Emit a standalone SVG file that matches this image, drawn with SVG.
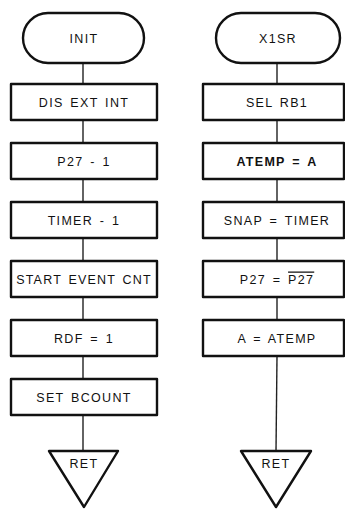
<svg xmlns="http://www.w3.org/2000/svg" width="345" height="509" viewBox="0 0 345 509">
<style>
.shape{fill:#fff;stroke:#111;stroke-width:2.4;stroke-linejoin:round}
.conn{stroke:#222;stroke-width:1.4;fill:none}
text{font-family:"Liberation Sans",Arial,sans-serif;font-size:12.5px;fill:#111;text-anchor:middle;letter-spacing:1.3px;word-spacing:2px}
</style>
<rect width="345" height="509" fill="#fff"/>
<g id="connectors">
<line class="conn" x1="83" y1="63" x2="83" y2="84"/>
<line class="conn" x1="83" y1="120" x2="83" y2="143"/>
<line class="conn" x1="83" y1="179" x2="83" y2="202"/>
<line class="conn" x1="83" y1="238" x2="83" y2="261"/>
<line class="conn" x1="83" y1="297" x2="83" y2="320"/>
<line class="conn" x1="83" y1="356" x2="83" y2="379"/>
<line class="conn" x1="83" y1="415" x2="83" y2="451"/>
<line class="conn" x1="277" y1="63" x2="277" y2="84"/>
<line class="conn" x1="277" y1="120" x2="277" y2="143"/>
<line class="conn" x1="277" y1="179" x2="277" y2="202"/>
<line class="conn" x1="277" y1="238" x2="277" y2="261"/>
<line class="conn" x1="277" y1="297" x2="277" y2="320"/>
<line class="conn" x1="277" y1="356" x2="276" y2="451"/>
</g>
<g id="init"><rect class="shape" x="23" y="13" width="121" height="50" rx="25" ry="25"/><text x="84" y="42.5">INIT</text></g>
<g id="dis_ext_int"><rect class="shape" x="11" y="84" width="146" height="36"/><text x="84" y="106.5">DIS EXT INT</text></g>
<g id="p27_set"><rect class="shape" x="11" y="143" width="146" height="36"/><text x="84" y="165.5">P27 - 1</text></g>
<g id="timer_set"><rect class="shape" x="11" y="202" width="146" height="36"/><text x="84" y="224.5">TIMER - 1</text></g>
<g id="start_event_cnt"><rect class="shape" x="11" y="261" width="146" height="36"/><text x="84" y="283.5" style="letter-spacing:1.2px">START EVENT CNT</text></g>
<g id="rdf_set"><rect class="shape" x="11" y="320" width="146" height="36"/><text x="84" y="342.5">RDF = 1</text></g>
<g id="set_bcount"><rect class="shape" x="11" y="379" width="146" height="36"/><text x="84" y="401.5">SET BCOUNT</text></g>
<g id="ret_left"><polygon class="shape" points="49,451 118,451 84,507"/><text x="84" y="468">RET</text></g>
<g id="x1sr"><rect class="shape" x="216" y="13" width="124" height="50" rx="25" ry="25"/><text x="278" y="42.5">X1SR</text></g>
<g id="sel_rb1"><rect class="shape" x="203" y="84" width="141" height="36"/><text x="277" y="106.5">SEL RB1</text></g>
<g id="atemp_a"><rect class="shape" x="203" y="143" width="141" height="36"/><text x="277" y="165.5" font-weight="bold">ATEMP = A</text></g>
<g id="snap_timer"><rect class="shape" x="203" y="202" width="141" height="36"/><text x="277" y="224.5">SNAP = TIMER</text></g>
<g id="p27_toggle"><rect class="shape" x="203" y="261" width="141" height="36"/><text x="277" y="283.5">P27 = <tspan style="text-decoration:overline">P27</tspan></text></g>
<g id="a_atemp"><rect class="shape" x="203" y="320" width="141" height="36"/><text x="277" y="342.5">A = ATEMP</text></g>
<g id="ret_right"><polygon class="shape" points="241,451 311,451 276,507"/><text x="276" y="468">RET</text></g>
</svg>
